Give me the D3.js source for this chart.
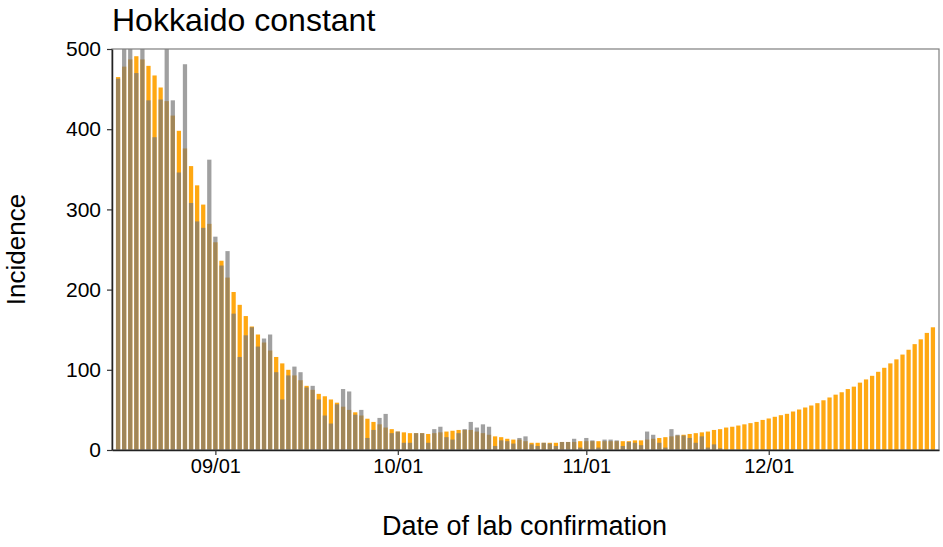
<!DOCTYPE html>
<html>
<head>
<meta charset="utf-8">
<script src="https://cdn.jsdelivr.net/npm/d3@7"></script>
<style>
  body { margin: 0; background: #fff; }
  text { font-family: "Liberation Sans", Arial, sans-serif; }
</style>
</head>
<body>
<div id="chart"></div>
<script>
// daily incidence, first bar on 08/16
var startDate = new Date(Date.UTC(2021, 7, 16));

// projection (orange), 08/16 .. 12/28
var projected = [465, 478, 487, 491, 487, 479, 467, 452, 435, 417,
                 398, 376, 354, 330, 306, 282, 259, 236, 215, 197,
                 181, 167, 154, 144, 134, 124, 116, 108, 100, 93,
                 87, 80, 75, 70, 67, 63, 59, 54, 50, 47,
                 43, 39, 35, 32, 28, 26, 23, 22, 21, 21,
                 21, 20, 21, 22, 23, 24, 25, 25, 25, 23,
                 21, 19, 17, 16, 14, 13, 13, 11, 9, 9,
                 9, 9, 9, 10, 10, 10, 11, 11, 11, 11,
                 11, 11, 11, 11, 11, 12, 12, 13, 14, 15,
                 16, 17, 18, 19, 20, 21, 22, 23, 25, 26,
                 28, 29, 30.5, 32, 33.5, 35, 37.5, 39.3, 41.4, 43.4,
                 45.1, 48, 50.5, 53, 55.5, 58.4, 62, 65.5, 69, 72,
                 76, 79, 84, 88, 92.5, 97.5, 102.5, 108, 113, 119,
                 125, 132, 138, 146, 153];

// observed (grey), 08/16 .. 11/23
var observed = [463, 520, 515, 470, 510, 436, 390, 437, 530, 436,
                346, 481, 308, 285, 277, 362, 266, 230, 248, 170,
                116, 143, 153, 129, 139, 144, 97, 63, 93, 104,
                97, 78, 80, 63, 43, 33, 57, 76, 73, 44,
                50, 15, 25, 40, 45, 21, 23, 9, 9, 21,
                21, 9, 26, 29, 16, 13, 21, 26, 35, 28,
                32, 29, 5, 12, 11, 8, 15, 17, 7, 5,
                9, 8, 5, 10, 10, 14, 3, 15, 12, 3,
                13, 13, 12, 5, 10, 9, 6, 23, 19, 9,
                3, 26, 19, 18, 15, 9, 17, 3, 7, 2];

var yTicks = [0, 100, 200, 300, 400, 500];
var xTicks = [new Date(Date.UTC(2021, 8, 1)), new Date(Date.UTC(2021, 9, 1)),
              new Date(Date.UTC(2021, 10, 1)), new Date(Date.UTC(2021, 11, 1))];

var margin = {top: 49, right: 4, bottom: 97, left: 112},
    width = 943 - margin.left - margin.right,
    height = 547 - margin.top - margin.bottom;

var svg = d3.select("#chart")
    .append("svg")
        .attr("width", width + margin.left + margin.right)
        .attr("height", height + margin.top + margin.bottom);

var g = svg.append("g")
    .attr("transform", "translate(" + margin.left + "," + margin.top + ")");

var x = d3.scaleUtc()
    .domain([d3.utcDay.offset(startDate, -1), d3.utcDay.offset(startDate, projected.length)])
    .range([0, width]);

var y = d3.scaleLinear()
    .domain([0, 500])
    .range([height, 0]);

var day = x(d3.utcDay.offset(startDate, 1)) - x(startDate);
var barW = day * 0.7;

svg.append("defs").append("clipPath").attr("id", "clip")
    .append("rect").attr("width", width).attr("height", height);

function toRows(vals) {
    return vals.map(function(v, i) { return {date: d3.utcDay.offset(startDate, i), value: v}; });
}

var bars = g.append("g").attr("clip-path", "url(#clip)");

bars.selectAll(".proj")
    .data(toRows(projected))
  .enter().append("rect")
    .attr("class", "proj")
    .attr("x", function(d) { return x(d.date) - barW / 2; })
    .attr("width", barW)
    .attr("y", function(d) { return y(d.value); })
    .attr("height", function(d) { return y(0) - y(d.value); })
    .attr("fill", "#ffa812");

bars.selectAll(".obs")
    .data(toRows(observed))
  .enter().append("rect")
    .attr("class", "obs")
    .attr("x", function(d) { return x(d.date) - barW / 2; })
    .attr("width", barW)
    .attr("y", function(d) { return y(d.value); })
    .attr("height", function(d) { return y(0) - y(d.value); })
    .attr("fill", "#777777")
    .attr("fill-opacity", 0.7);

// panel border
g.append("rect")
    .attr("width", width).attr("height", height)
    .attr("fill", "none").attr("stroke", "#7f7f7f").attr("stroke-width", 1.2);

var xAxis = g.append("g")
    .attr("transform", "translate(0," + height + ")")
    .call(d3.axisBottom(x).tickValues(xTicks).tickFormat(d3.utcFormat("%m/%d"))
        .tickSizeInner(5).tickSizeOuter(0).tickPadding(4));

var yAxis = g.append("g")
    .call(d3.axisLeft(y).tickValues(yTicks).tickSizeInner(5).tickSizeOuter(0).tickPadding(6));

[xAxis, yAxis].forEach(function(a) {
    a.select(".domain").attr("stroke", "#222").attr("stroke-width", 1.5);
    a.selectAll(".tick line").attr("stroke", "#333").attr("stroke-width", 1.2);
    a.selectAll(".tick text").attr("fill", "#000").style("font-size", "20px")
        .style("font-family", "'Liberation Sans', Arial, sans-serif");
});
yAxis.selectAll(".tick text").style("font-size", "21px");

svg.append("text")
    .attr("x", 112).attr("y", 31)
    .style("font-size", "32px")
    .text("Hokkaido constant");

svg.append("text")
    .attr("x", margin.left + width / 2 - 1).attr("y", 535)
    .attr("text-anchor", "middle")
    .style("font-size", "27px")
    .text("Date of lab confirmation");

svg.append("text")
    .attr("transform", "translate(25," + (margin.top + height / 2) + ") rotate(-90)")
    .attr("text-anchor", "middle")
    .style("font-size", "26px")
    .text("Incidence");
</script>
</body>
</html>
